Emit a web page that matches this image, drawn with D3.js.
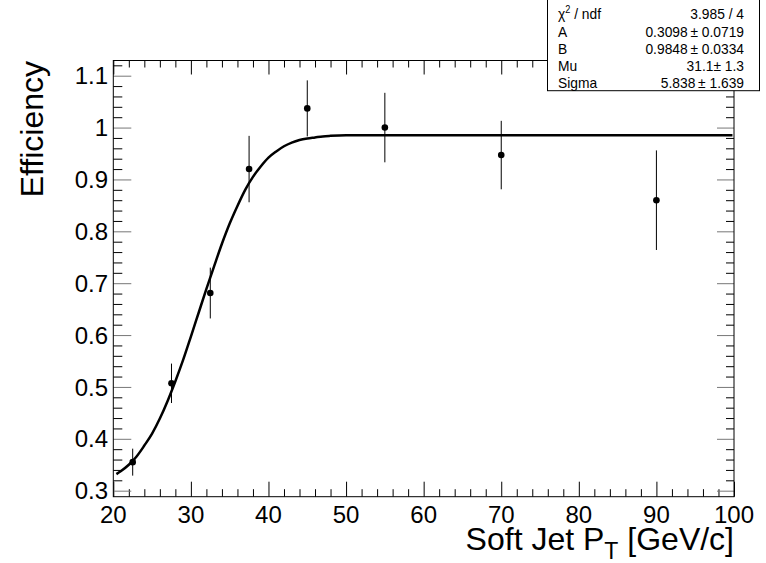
<!DOCTYPE html>
<html>
<head>
<meta charset="utf-8">
<script src="https://cdn.jsdelivr.net/npm/d3@7"></script>
<style>
  body { margin: 0; background: #fff; }
  svg text { font-family: "Liberation Sans", Arial, Helvetica, sans-serif; fill: #000; }
</style>
</head>
<body>
<div id="chart"></div>
<script>

// Measured points (soft jet pT, efficiency, error).
const ptValues  = [22.5, 27.5, 32.5, 37.5, 45, 55, 70, 90];
const effValues = [0.355, 0.507, 0.681, 0.920, 1.037, 1.000, 0.947, 0.860];
const effErrors = [0.026, 0.038, 0.049, 0.064, 0.054, 0.067, 0.066, 0.096];

// Fit curve.
const fitX = [20.4, 21, 22, 23, 24, 25, 26, 27, 28, 29, 30, 31, 32, 33, 34, 35, 36, 37, 38, 39,
              40, 41, 42, 43, 44, 45, 46, 47, 48, 50, 60, 70, 80, 90, 99.8];
const fitY = [0.332, 0.338, 0.350, 0.366, 0.387, 0.410, 0.439, 0.473, 0.511, 0.552, 0.597, 0.643,
              0.689, 0.733, 0.776, 0.815, 0.849, 0.880, 0.905, 0.925, 0.942, 0.954, 0.964, 0.971,
              0.976, 0.979, 0.981, 0.983, 0.984, 0.985, 0.985, 0.985, 0.985, 0.985, 0.985];

// Axis ticks.
const xMajorTicks = [20, 30, 40, 50, 60, 70, 80, 90, 100];
const xMinorTicks = [22, 24, 26, 28, 32, 34, 36, 38, 42, 44, 46, 48, 52, 54, 56, 58,
                     62, 64, 66, 68, 72, 74, 76, 78, 82, 84, 86, 88, 92, 94, 96, 98];
const yMajorTicks = [0.3, 0.4, 0.5, 0.6, 0.7, 0.8, 0.9, 1.0, 1.1];
const yTickLabels = ["0.3", "0.4", "0.5", "0.6", "0.7", "0.8", "0.9", "1", "1.1"];
const yMinorTicks = [0.32, 0.34, 0.36, 0.38, 0.42, 0.44, 0.46, 0.48, 0.52, 0.54, 0.56, 0.58,
                     0.62, 0.64, 0.66, 0.68, 0.72, 0.74, 0.76, 0.78, 0.82, 0.84, 0.86, 0.88,
                     0.92, 0.94, 0.96, 0.98, 1.02, 1.04, 1.06, 1.08, 1.12];

// Fit statistics box.
const statNames  = ["A", "B", "Mu", "Sigma"];
const statValues = ["0.3098\u2009\u00b1 0.0719", "0.9848\u2009\u00b1 0.0334", "31.1\u00b1 1.3", "5.838\u2009\u00b1 1.639"];
const chiValue = "3.985 / 4";

const WIDTH = 766, HEIGHT = 563;
const FRAME = {'left': 113.3, 'right': 734, 'top': 60.5, 'bottom': 496.7};

var svg = d3.select("#chart").append("svg")
            .attr("width", WIDTH)
            .attr("height", HEIGHT);

var x = d3.scaleLinear().domain([20, 100]).range([FRAME.left, FRAME.right]);
var y = d3.scaleLinear().domain([0.2884, 1.1293]).range([FRAME.bottom, FRAME.top]);

function tickAxis(axisFn, scale, values, size, translate, colour) {
    var g = svg.append("g")
               .attr("transform", translate)
               .call(axisFn(scale).tickValues(values).tickSize(size).tickSizeOuter(0).tickFormat(""));
    g.select(".domain").remove();
    g.selectAll("line").attr("stroke", colour).attr("stroke-width", 1);
    return g;
}

// Bottom / top x ticks (pointing inside).
tickAxis(d3.axisBottom, x, xMajorTicks, -15, "translate(0," + FRAME.bottom + ")", "#000");
tickAxis(d3.axisBottom, x, xMinorTicks, -7.5, "translate(0," + FRAME.bottom + ")", "#000");
tickAxis(d3.axisTop, x, xMajorTicks, -14, "translate(0," + FRAME.top + ")", "#000");
tickAxis(d3.axisTop, x, xMinorTicks, -7, "translate(0," + FRAME.top + ")", "#000");
// Left / right y ticks (major ones look greyish in the original).
tickAxis(d3.axisLeft, y, yMajorTicks, -18, "translate(" + FRAME.left + ",0)", "#777");
tickAxis(d3.axisLeft, y, yMinorTicks, -9, "translate(" + FRAME.left + ",0)", "#000");
tickAxis(d3.axisRight, y, yMajorTicks, -17, "translate(" + FRAME.right + ",0)", "#777");
tickAxis(d3.axisRight, y, yMinorTicks, -8, "translate(" + FRAME.right + ",0)", "#000");

// Frame.
svg.append("rect")
   .attr("x", FRAME.left).attr("y", FRAME.top)
   .attr("width", FRAME.right - FRAME.left).attr("height", FRAME.bottom - FRAME.top)
   .attr("fill", "none").attr("stroke", "#000").attr("stroke-width", 1);

// Tick labels.
svg.append("g").selectAll("text")
   .data(xMajorTicks).enter().append("text")
   .attr("x", function (d) { return x(d); })
   .attr("y", 523)
   .attr("text-anchor", "middle")
   .attr("font-size", "24px")
   .text(function (d) { return d; });

svg.append("g").selectAll("text")
   .data(yMajorTicks).enter().append("text")
   .attr("x", 108)
   .attr("y", function (d) { return y(d) + 8.6; })
   .attr("text-anchor", "end")
   .attr("font-size", "24px")
   .text(function (d, i) { return yTickLabels[i]; });

// Axis titles.
var xt = svg.append("text")
            .attr("x", 734).attr("y", 550)
            .attr("text-anchor", "end")
            .attr("font-size", "32px");
xt.append("tspan").text("Soft Jet P");
xt.append("tspan").attr("font-size", "23px").attr("dy", 9).text("T");
xt.append("tspan").attr("dy", -9).text(" [GeV/c]");

svg.append("text")
   .attr("transform", "translate(43,61) rotate(-90)")
   .attr("text-anchor", "end")
   .attr("font-size", "32px")
   .text("Efficiency");

// Fit curve.
var line = d3.line()
             .x(function (d, i) { return x(fitX[i]); })
             .y(function (d) { return y(d); })
             .curve(d3.curveMonotoneX);
svg.append("path")
   .attr("d", line(fitY))
   .attr("fill", "none")
   .attr("stroke", "#000")
   .attr("stroke-width", 2.5);

// Error bars and markers.
svg.append("g").selectAll("line")
   .data(effValues).enter().append("line")
   .attr("x1", function (d, i) { return x(ptValues[i]); })
   .attr("x2", function (d, i) { return x(ptValues[i]); })
   .attr("y1", function (d, i) { return y(d - effErrors[i]); })
   .attr("y2", function (d, i) { return y(d + effErrors[i]); })
   .attr("stroke", "#000").attr("stroke-width", 1);

svg.append("g").selectAll("circle")
   .data(effValues).enter().append("circle")
   .attr("cx", function (d, i) { return x(ptValues[i]); })
   .attr("cy", function (d) { return y(d); })
   .attr("r", 3.3)
   .attr("fill", "#000");

// Stats box (text a bit taller than wide, like ROOT's).
var box = svg.append("g");
box.append("rect")
   .attr("x", 547.5).attr("y", -1)
   .attr("width", 212).attr("height", 91.7)
   .attr("fill", "#fff").attr("stroke", "#000").attr("stroke-width", 1);

var rowY = [19, 37, 54, 71, 87.5];
var SX = 0.92;
function statText(px, py, anchor) {
    return box.append("text")
              .attr("transform", "translate(" + px + "," + py + ") scale(" + SX + ",1)")
              .attr("text-anchor", anchor)
              .attr("font-size", "15px");
}

var chi = statText(558, rowY[0], "start");
chi.append("tspan").text("\u03c7");
chi.append("tspan").attr("font-size", "10px").attr("dy", -6).text("2");
chi.append("tspan").attr("dy", 6).text(" / ndf");
statText(744, rowY[0], "end").text(chiValue);

statNames.forEach(function (d, i) {
    statText(558, rowY[i + 1], "start").text(d);
});
statValues.forEach(function (d, i) {
    statText(744, rowY[i + 1], "end").text(d);
});

</script>
</body>
</html>
